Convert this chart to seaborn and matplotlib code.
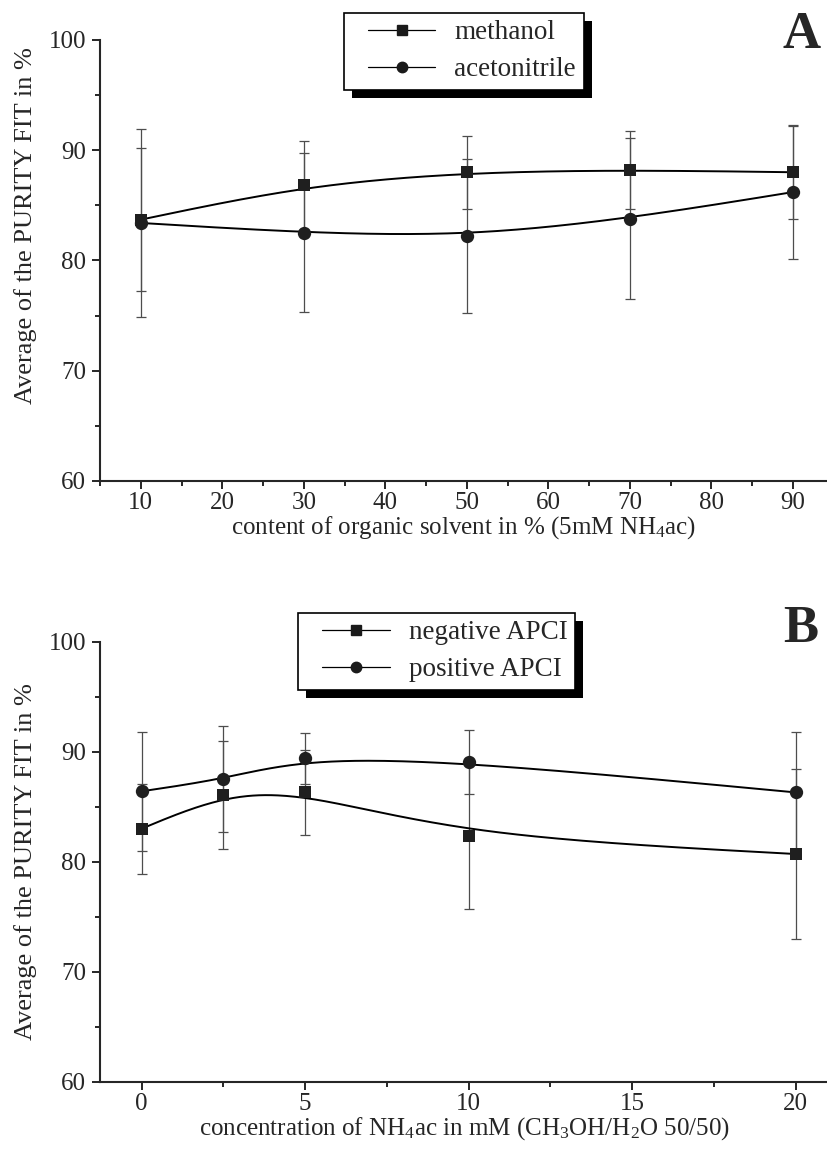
import numpy as np
import pandas as pd
import matplotlib
matplotlib.use('Agg')
import matplotlib.pyplot as plt
import matplotlib.patheffects as pe
from matplotlib.lines import Line2D
from matplotlib.legend_handler import HandlerLine2D
from matplotlib.ticker import MultipleLocator
import seaborn as sns

# ---- data ----
solvent_pct = [10, 30, 50, 70, 90]
methanol = [83.7, 86.8, 88.0, 88.2, 88.0]
methanol_err = [6.5, 4.0, 3.3, 3.5, 4.2]
acetonitrile = [83.4, 82.5, 82.2, 83.8, 86.2]
acetonitrile_err = [8.5, 7.2, 7.0, 7.3, 6.1]

nh4ac_mM = [0, 2.5, 5, 10, 20]
neg_apci = [83.0, 86.1, 86.3, 82.3, 80.7]
neg_apci_err = [4.1, 4.9, 3.9, 6.6, 7.7]
pos_apci = [86.4, 87.5, 89.4, 89.1, 86.3]
pos_apci_err = [5.4, 4.8, 2.3, 2.9, 5.5]

sns.set_style('ticks')
plt.rcParams['font.family'] = ['Liberation Serif', 'DejaVu Serif']
plt.rcParams['mathtext.fontset'] = 'custom'
plt.rcParams['mathtext.rm'] = 'Liberation Serif'
plt.rcParams['mathtext.it'] = 'Liberation Serif:italic'
plt.rcParams['axes.linewidth'] = 1.5
FS = 18


def bspline_curve(x, y, n=60):
    # B-spline connecting line using the data points as control points
    # (the smooth line style of the original plotting software)
    P = np.column_stack([x, y]).astype(float)
    P = np.vstack([2 * P[0] - P[1], P, 2 * P[-1] - P[-2]])
    t = np.linspace(0, 1, n)
    b0 = (1 - t) ** 3 / 6
    b1 = (3 * t**3 - 6 * t**2 + 4) / 6
    b2 = (-3 * t**3 + 3 * t**2 + 3 * t + 1) / 6
    b3 = t**3 / 6
    pts = [np.outer(b0, P[i]) + np.outer(b1, P[i + 1]) + np.outer(b2, P[i + 2])
           + np.outer(b3, P[i + 3]) for i in range(len(P) - 3)]
    pts = np.vstack(pts)
    return pts[:, 0], pts[:, 1]


def draw_panel(ax, x, series, xlim, xmaj, xmin, xlabel, letter, leg_x, leg_y,
               letter_y, ylab_y):
    rows = []
    for name, vals, errs, mk, sz in series:
        for xi, v, e in zip(x, vals, errs):
            rows.append({'x': xi, 'value': v, 'err': e, 'series': name})
    df = pd.DataFrame(rows)

    for name, vals, errs, mk, sz in series:
        d = df[df['series'] == name]
        ax.errorbar(d['x'], d['value'], yerr=d['err'], fmt='none', ecolor='0.3',
                    elinewidth=0.9, capsize=3.5, capthick=0.9, zorder=2)
        cx, cy = bspline_curve(d['x'], d['value'])
        sns.lineplot(x=cx, y=cy, ax=ax, color='k', lw=1.4, sort=False,
                     estimator=None, zorder=3)
    for name, vals, errs, mk, sz in series:
        d = df[df['series'] == name]
        sns.scatterplot(data=d, x='x', y='value', marker=mk, color='0.12',
                        s=sz, edgecolor='0.12', linewidth=0, ax=ax, zorder=4,
                        legend=False)

    ax.set_xlim(*xlim)
    ax.set_ylim(60, 100)
    ax.xaxis.set_major_locator(MultipleLocator(xmaj))
    ax.xaxis.set_minor_locator(MultipleLocator(xmin))
    ax.yaxis.set_major_locator(MultipleLocator(10))
    ax.yaxis.set_minor_locator(MultipleLocator(5))
    ax.tick_params(which='major', direction='out', length=6, width=1.4,
                   labelsize=FS, pad=4)
    ax.tick_params(axis='x', which='major', pad=2)
    ax.tick_params(which='minor', direction='out', length=3.5, width=1.4)
    sns.despine(ax=ax)
    ax.set_xlabel(xlabel, fontsize=FS, labelpad=0)
    ax.set_ylabel('Average of the PURITY FIT in %', fontsize=19)
    ax.yaxis.set_label_coords(-0.087, ylab_y)

    handles = [Line2D([], [], color='k', lw=0.9, marker=s[3], markersize=7.5,
                      markerfacecolor='0.1', markeredgecolor='0.1')
               for s in series]
    leg = ax.legend(handles, [s[0] for s in series], loc='upper left',
                    bbox_to_anchor=(leg_x, leg_y), fontsize=19.5, frameon=True,
                    fancybox=False, edgecolor='k', framealpha=1,
                    handlelength=3.1, handletextpad=0.7, labelspacing=0.44,
                    borderpad=0.28, borderaxespad=0,
                    handler_map={Line2D: HandlerLine2D(xpad=0.6)})
    frame = leg.get_frame()
    frame.set_linewidth(1.2)
    frame.set_path_effects([pe.SimplePatchShadow(offset=(6, -6), shadow_rgbFace='k', alpha=1),
                            pe.Normal()])
    ax.text(0.963, letter_y, letter, transform=ax.transAxes, ha='center',
            va='center', fontsize=38, fontweight='bold')


fig = plt.figure(figsize=(8.28, 11.64), dpi=100)
ax1 = fig.add_axes([0.1208, 0.5868, 0.8792, 0.3789])
ax2 = fig.add_axes([0.1208, 0.0707, 0.8792, 0.378])

draw_panel(ax1, solvent_pct,
           [('methanol', methanol, methanol_err, 's', 80),
            ('acetonitrile', acetonitrile, acetonitrile_err, 'o', 92)],
           (5, 94.3), 10, 5,
           'content of organic solvent in % (5mM NH$_4$ac)', 'A', 0.335, 1.062,
           1.011, 0.58)
draw_panel(ax2, nh4ac_mM,
           [('negative APCI', neg_apci, neg_apci_err, 's', 80),
            ('positive APCI', pos_apci, pos_apci_err, 'o', 92)],
           (-1.27, 20.99), 5, 2.5,
           'concentration of NH$_4$ac in mM (CH$_3$OH/H$_2$O 50/50)', 'B', 0.272, 1.066,
           1.029, 0.5)

fig.savefig('out.png', dpi=100)
